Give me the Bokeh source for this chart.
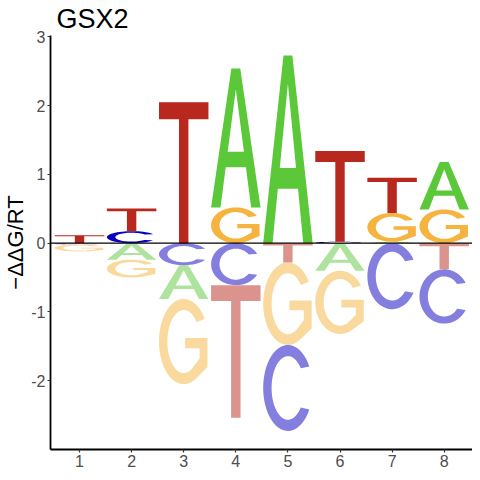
import numpy as np
from bokeh.plotting import figure
from bokeh.models import FixedTicker, Span, Range1d
from bokeh.embed import file_html
from bokeh.resources import INLINE

# ---- data (energy logo, -ddG/RT per base and position) ----
positions = [1, 2, 3, 4, 5, 6, 7, 8]
letters = ["A", "C", "G", "T"]
val_A = [0.0, -0.24, -0.49, 2.02, 2.73, -0.40, 0.02, 0.69]
val_C = [-0.02, 0.175, -0.32, -0.61, -1.25, 0.02, -0.96, -0.79]
val_G = [-0.10, -0.26, -1.24, 0.52, -1.20, -0.92, 0.42, 0.49]
val_T = [0.115, 0.33, 2.05, -1.93, -0.28, 1.32, 0.51, -0.38]
y_ticks = [-2, -1, 0, 1, 2, 3]
y_tick_labels = ["-2", "-1", "0", "1", "2", "3"]
title_text = "GSX2"
ylabel_text = "\u2212\u0394\u0394G/RT"

colors = {"A": "#5BC83A", "C": "#0A00C0", "G": "#F5B33F", "T": "#B8281E"}
vals = {"A": val_A, "C": val_C, "G": val_G, "T": val_T}

# ---- letter outlines in a unit box ----
def arc(cx, cy, rx, ry, a0, a1, n=48):
    t = np.radians(np.linspace(a0, a1, n))
    return list(cx + rx * np.cos(t)), list(cy + ry * np.sin(t))

def shape_T():
    w, h = 0.19, 0.12
    xs = [0, 1, 1, 0.5 + w / 2, 0.5 + w / 2, 0.5 - w / 2, 0.5 - w / 2, 0]
    ys = [1, 1, 1 - h, 1 - h, 0, 0, 1 - h, 1 - h]
    return [(xs, ys)]

def shape_A():
    ex = [0, 0.41, 0.59, 1, 0.81, 0.704, 0.296, 0.19]
    ey = [0, 1, 1, 0, 0, 0.29, 0.29, 0]
    hx = [0.336, 0.664, 0.5]
    hy = [0.40, 0.40, 0.85]
    return [(ex, ey), (hx, hy)]

def shape_C():
    tx, ty = 0.17, 0.13
    ox, oy = arc(0.5, 0.5, 0.5, 0.5, 30, 330)
    ix, iy = arc(0.5, 0.5, 0.5 - tx, 0.5 - ty, 322, 38)
    return [(ox + ix, oy + iy)]

def shape_G():
    tx, ty = 0.17, 0.13
    ox, oy = arc(0.5, 0.5, 0.5, 0.5, 32, 300)
    ix, iy = arc(0.5, 0.5, 0.5 - tx, 0.5 - ty, 300, 38)
    xs = ox + [0.98, 0.98, 0.53, 0.53, 0.82, 0.82] + ix
    ys = oy + [0.2, 0.54, 0.54, 0.42, 0.42, 0.30] + iy
    return [(xs, ys)]

shapes = {"A": shape_A(), "C": shape_C(), "G": shape_G(), "T": shape_T()}
W = 0.95

gx, gy, gfill, galpha = [], [], [], []

def add_letter(L, pos, y0, y1, alpha):
    rings_x, rings_y = [], []
    for ux, uy in shapes[L]:
        rings_x.append([pos - W / 2 + W * u for u in ux])
        rings_y.append([y0 + (y1 - y0) * u for u in uy])
    gx.append([rings_x])
    gy.append([rings_y])
    gfill.append(colors[L])
    galpha.append(alpha)

for i, pos in enumerate(positions):
    items = [(L, vals[L][i]) for L in letters]
    pos_items = sorted([t for t in items if t[1] > 0], key=lambda t: t[1])
    neg_items = sorted([t for t in items if t[1] < 0], key=lambda t: -t[1])
    base = 0.0
    for L, v in pos_items:
        add_letter(L, pos, base, base + v, 1.0)
        base += v
    base = 0.0
    for L, v in neg_items:
        add_letter(L, pos, base + v, base, 0.5)
        base += v

p = figure(frame_width=422, frame_height=414, output_backend="svg", toolbar_location=None,
           x_range=Range1d(0.443, 8.543), y_range=Range1d(-3.0, 3.02),
           min_border_left=43, min_border_right=0, min_border_top=3, min_border_bottom=22)

p.multi_polygons(xs=gx, ys=gy, fill_color=gfill, fill_alpha=galpha, line_color=None)
p.add_layout(Span(location=0, dimension="width", line_color="black", line_width=1.3))

p.title.text = title_text
p.title.text_font = "Liberation Sans"
p.title.text_font_size = "27px"
p.title.text_font_style = "normal"
p.title.text_color = "black"
p.title.standoff = 3
p.title.offset = 6

p.xgrid.visible = False
p.ygrid.visible = False
p.outline_line_color = None
p.background_fill_color = "white"
p.border_fill_color = "white"

p.xaxis.ticker = FixedTicker(ticks=positions)
p.yaxis.ticker = FixedTicker(ticks=y_ticks)
p.yaxis.major_label_overrides = {t: s for t, s in zip(y_ticks, y_tick_labels)}
for ax in (p.xaxis, p.yaxis):
    ax.axis_line_color = "black"
    ax.axis_line_width = 1.8
    ax.major_tick_line_color = "#333333"
    ax.major_tick_line_width = 1.2
    ax.major_tick_out = 3
    ax.major_tick_in = 0
    ax.minor_tick_line_color = None
    ax.major_label_text_font = "Liberation Sans"
    ax.major_label_text_font_size = "16px"
    ax.major_label_text_color = "#4D4D4D"
    ax.major_label_standoff = 2

p.yaxis.axis_label = ylabel_text
p.yaxis.axis_label_text_font = "Liberation Sans"
p.yaxis.axis_label_text_font_size = "22px"
p.yaxis.axis_label_text_font_style = "normal"
p.yaxis.axis_label_text_color = "black"
p.yaxis.axis_label_standoff = 0

open("out.html", "w").write(file_html(p, INLINE))
